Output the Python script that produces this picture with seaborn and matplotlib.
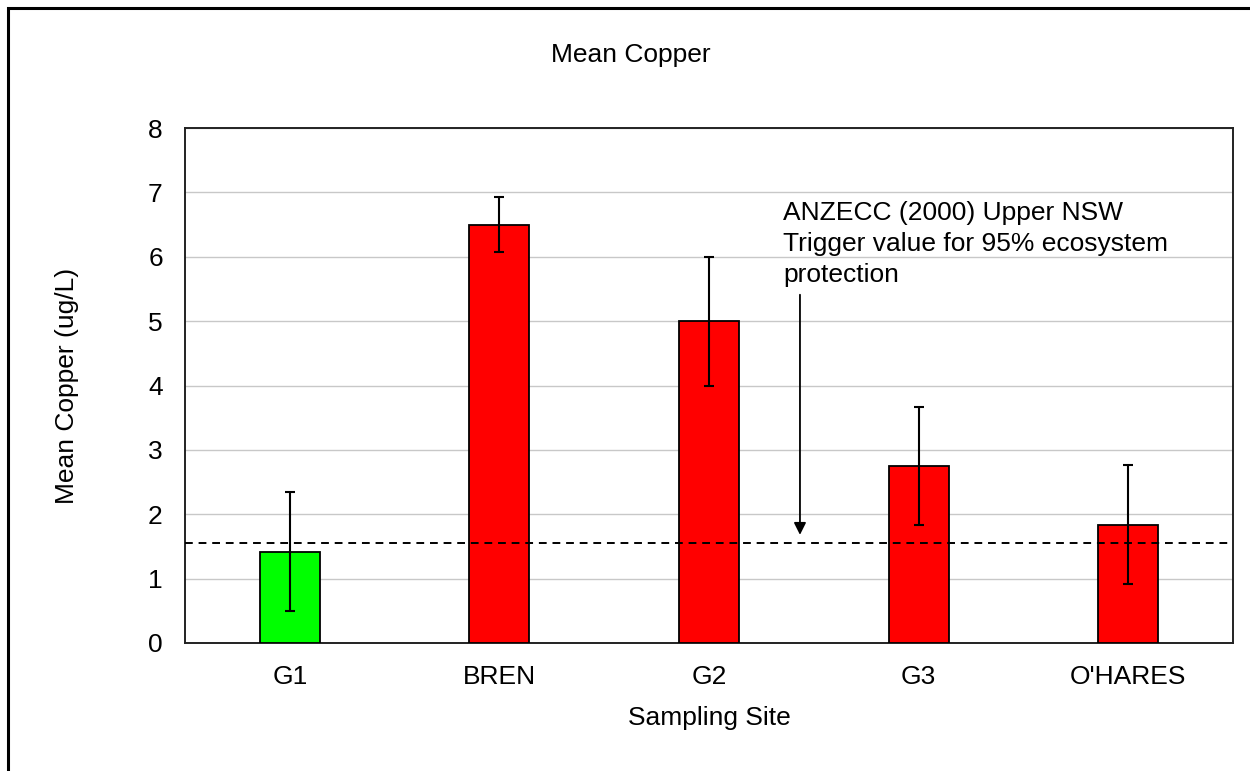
import matplotlib
matplotlib.use("Agg")
import matplotlib.pyplot as plt
import matplotlib.patches as mpatches
import seaborn as sns
import pandas as pd

sites = ["G1", "BREN", "G2", "G3", "O'HARES"]
mean_copper = [1.42, 6.50, 5.00, 2.75, 1.84]
error = [0.92, 0.43, 1.00, 0.91, 0.93]
bar_colors = ["#00FF00", "#FF0000", "#FF0000", "#FF0000", "#FF0000"]
trigger_value = 1.55
y_ticks = [0, 1, 2, 3, 4, 5, 6, 7, 8]
title = "Mean Copper"
x_label = "Sampling Site"
y_label = "Mean Copper (ug/L)"
annotation = "ANZECC (2000) Upper NSW\nTrigger value for 95% ecosystem\nprotection"

sns.set_style("white")
plt.rcParams["font.family"] = ["Liberation Sans", "DejaVu Sans"]
plt.rcParams["text.color"] = "black"
plt.rcParams["axes.labelcolor"] = "black"
plt.rcParams["xtick.labelcolor"] = "black"
plt.rcParams["ytick.labelcolor"] = "black"
FS = 19

df = pd.DataFrame({"site": sites, "value": mean_copper})

fig = plt.figure(figsize=(12.5, 7.71), dpi=100)
ax = fig.add_axes([185 / 1250, 1 - 643 / 771, (1233 - 185) / 1250, (643 - 128) / 771])

sns.barplot(data=df, x="site", y="value", hue="site", palette=bar_colors,
            legend=False, width=0.286, edgecolor="black", linewidth=1.3,
            saturation=1, ax=ax, zorder=3)
ax.errorbar(range(len(sites)), mean_copper, yerr=error, fmt="none",
            ecolor="black", elinewidth=1.5, capsize=3.6, capthick=1.5, zorder=4)

ax.axhline(trigger_value, color="black", linestyle=(0, (4, 3)), linewidth=1.4, zorder=5)

ax.set_xlim(-0.5, len(sites) - 0.5)
ax.set_ylim(0, 8)
ax.set_yticks(y_ticks)
ax.set_yticklabels([str(t) for t in y_ticks], fontsize=FS, color="black")
ax.set_xticks(range(len(sites)))
ax.set_xticklabels(sites, fontsize=FS, color="black")
ax.set_xticks([i - 0.5 for i in range(len(sites) + 1)], minor=True)
ax.tick_params(axis="x", which="major", length=0, pad=16)
ax.tick_params(axis="x", which="minor", length=6, color="#808080", width=1, direction="out")
ax.tick_params(axis="y", which="major", length=6, color="#808080", width=1, direction="out", pad=10)

ax.yaxis.grid(True, color="#C8C8C8", linewidth=1, zorder=0)
ax.set_axisbelow(True)
for s in ax.spines.values():
    s.set_visible(True)
    s.set_color("#222222")
    s.set_linewidth(1.4)

ax.set_xlabel(x_label, fontsize=FS, labelpad=12, color="black")
ax.set_ylabel(y_label, fontsize=FS, labelpad=50, color="black")

ax.text(2.353, 6.86, annotation, fontsize=FS, va="top", ha="left",
        linespacing=1.36, zorder=6, color="black")
ax.annotate("", xy=(2.434, 1.68), xytext=(2.434, 5.41),
            arrowprops=dict(arrowstyle="-|>", color="black", lw=1.3,
                            mutation_scale=18, shrinkA=0, shrinkB=0), zorder=6)

fig.text(631 / 1250, 1 - 55 / 771, title, fontsize=FS, ha="center", va="center", color="black")

frame = mpatches.Rectangle((8 / 1250, -0.05), 1.1, 1 - 8 / 771 + 0.05,
                           transform=fig.transFigure, fill=False,
                           edgecolor="black", linewidth=2.2, clip_on=False)
fig.patches.append(frame)

fig.savefig("out.png", dpi=100)
